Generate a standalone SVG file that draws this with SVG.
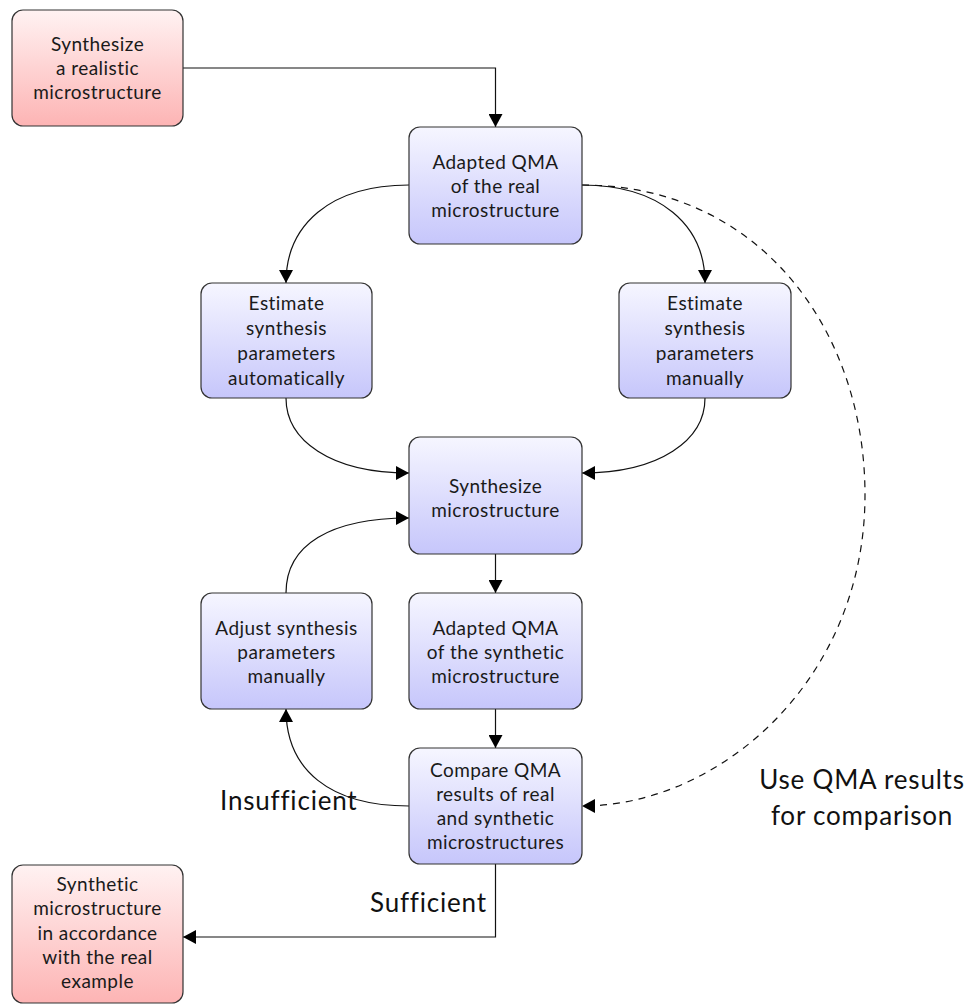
<svg xmlns="http://www.w3.org/2000/svg" width="971" height="1005" viewBox="0 0 971 1005">
  <defs>
    <linearGradient id="gBlue" x1="0" y1="0" x2="0" y2="1">
      <stop offset="0" stop-color="#f6f6ff"/>
      <stop offset="1" stop-color="#c6c6fb"/>
    </linearGradient>
    <linearGradient id="gPink" x1="0" y1="0" x2="0" y2="1">
      <stop offset="0" stop-color="#fff2f2"/>
      <stop offset="1" stop-color="#fdb4b4"/>
    </linearGradient>
    <marker id="arrow" viewBox="0 0 13 14" refX="13" refY="7" markerWidth="13" markerHeight="14" markerUnits="userSpaceOnUse" orient="auto">
      <path d="M0,0 L13,7 L0,14 Z" fill="#000"/>
    </marker>
    <style>
      .box { stroke: #333; stroke-width: 1.2; }
      .blue { fill: url(#gBlue); }
      .pink { fill: url(#gPink); }
      .lbl { font-family: Lato, "Open Sans", "DejaVu Sans", sans-serif; font-size: 19px; letter-spacing: 0.45px; fill: #1a1a1a; text-anchor: middle; }
      .note { font-family: Lato, "Open Sans", "DejaVu Sans", sans-serif; font-size: 26px; letter-spacing: 0.8px; fill: #111; }
      .edge { fill: none; stroke: #111; stroke-width: 1.2; }
      .solid { marker-end: url(#arrow); }
      .dash { stroke-dasharray: 7 6; }
    </style>
  </defs>

  <!-- connectors -->
  <g id="connectors">
    <path class="edge solid" d="M183,68 H495.5 V127"/>
    <path class="edge solid" d="M409,185 C330,185 286,225 286,283"/>
    <path class="edge solid" d="M582,185 C660,185 705,225 705,283"/>
    <path class="edge solid" d="M286,398 C286,440 330,473 409,473"/>
    <path class="edge solid" d="M705,398 C705,440 660,473 582,473"/>
    <path class="edge solid" d="M286,593 C286,545 330,518 409,518"/>
    <path class="edge solid" d="M495.5,554 V593"/>
    <path class="edge solid" d="M495.5,709 V748"/>
    <path class="edge solid" d="M409,806 C330,806 286,770 286,709"/>
    <path class="edge solid" d="M495.5,864 V937 H183"/>
    <path class="edge dash solid" d="M582,185 C760,185 865,330 865,495 C865,680 720,806 582,806"/>
  </g>

  <!-- edge labels -->
  <g id="edge-labels">
    <text class="note" x="220" y="810">Insufficient</text>
    <text class="note" x="370" y="912">Sufficient</text>
    <text class="note" x="862" y="789" text-anchor="middle">Use QMA results</text>
    <text class="note" x="862" y="825" text-anchor="middle">for comparison</text>
  </g>

  <g id="n-start">
    <rect class="box pink" x="12" y="10" width="171" height="116" rx="11"/>
    <text class="lbl" x="97.5" y="51">Synthesize</text>
    <text class="lbl" x="97.5" y="75">a realistic</text>
    <text class="lbl" x="97.5" y="99">microstructure</text>
  </g>

  <g id="n-qma-real">
    <rect class="box blue" x="409" y="127" width="173" height="117" rx="11"/>
    <text class="lbl" x="495.5" y="168.5">Adapted QMA</text>
    <text class="lbl" x="495.5" y="192.5">of the real</text>
    <text class="lbl" x="495.5" y="216.5">microstructure</text>
  </g>

  <g id="n-est-auto">
    <rect class="box blue" x="201" y="283" width="171" height="115" rx="11"/>
    <text class="lbl" x="286.5" y="310">Estimate</text>
    <text class="lbl" x="286.5" y="335">synthesis</text>
    <text class="lbl" x="286.5" y="360">parameters</text>
    <text class="lbl" x="286.5" y="385">automatically</text>
  </g>

  <g id="n-est-manual">
    <rect class="box blue" x="619" y="283" width="172" height="115" rx="11"/>
    <text class="lbl" x="705" y="310">Estimate</text>
    <text class="lbl" x="705" y="335">synthesis</text>
    <text class="lbl" x="705" y="360">parameters</text>
    <text class="lbl" x="705" y="385">manually</text>
  </g>

  <g id="n-synth">
    <rect class="box blue" x="409" y="437" width="173" height="117" rx="11"/>
    <text class="lbl" x="495.5" y="493">Synthesize</text>
    <text class="lbl" x="495.5" y="517">microstructure</text>
  </g>

  <g id="n-adjust">
    <rect class="box blue" x="201" y="593" width="171" height="116" rx="11"/>
    <text class="lbl" x="286.5" y="635">Adjust synthesis</text>
    <text class="lbl" x="286.5" y="659">parameters</text>
    <text class="lbl" x="286.5" y="683">manually</text>
  </g>

  <g id="n-qma-synth">
    <rect class="box blue" x="409" y="593" width="173" height="116" rx="11"/>
    <text class="lbl" x="495.5" y="635">Adapted QMA</text>
    <text class="lbl" x="495.5" y="659">of the synthetic</text>
    <text class="lbl" x="495.5" y="683">microstructure</text>
  </g>

  <g id="n-compare">
    <rect class="box blue" x="409" y="748" width="173" height="116" rx="11"/>
    <text class="lbl" x="495.5" y="777">Compare QMA</text>
    <text class="lbl" x="495.5" y="801">results of real</text>
    <text class="lbl" x="495.5" y="825">and synthetic</text>
    <text class="lbl" x="495.5" y="849">microstructures</text>
  </g>

  <g id="n-result">
    <rect class="box pink" x="12" y="865" width="171" height="138" rx="11"/>
    <text class="lbl" x="97.5" y="891">Synthetic</text>
    <text class="lbl" x="97.5" y="915">microstructure</text>
    <text class="lbl" x="97.5" y="940">in accordance</text>
    <text class="lbl" x="97.5" y="964">with the real</text>
    <text class="lbl" x="97.5" y="988">example</text>
  </g>
</svg>
